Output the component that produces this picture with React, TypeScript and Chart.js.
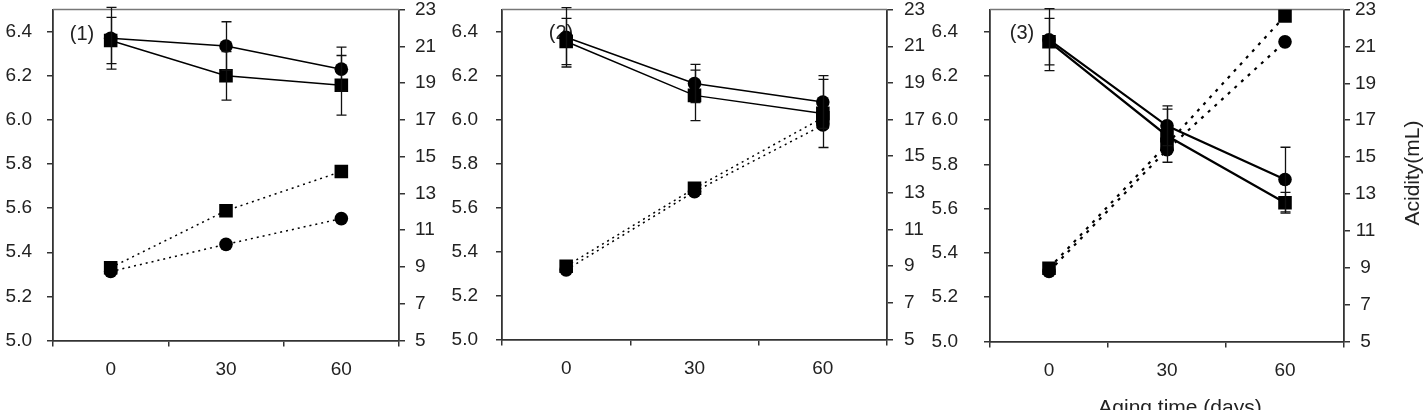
import React, { useEffect, useRef } from 'react';
import { Chart, registerables } from 'chart.js';

Chart.register(...registerables);

// ---------- data ----------
const days = ['0', '30', '60'];
const panelLabels = ['(1)', '(2)', '(3)'];
const xTitle = 'Aging time (days)';
const rightTitle = 'Acidity(mL)';

const phMin = 5.0;
const phMax = 6.5;
const phStep = 0.2;
const acidMin = 5;
const acidMax = 23;
const acidStep = 2;

// panel (1)
const p1PhCircle = [6.37, 6.335, 6.23];
const p1PhCircleErr = [0.14, 0.11, 0.1];
const p1PhSquare = [6.36, 6.2, 6.157];
const p1PhSquareErr = [0.105, 0.11, 0.135];
const p1AcidCircle = [8.75, 10.23, 11.63];
const p1AcidSquare = [8.96, 12.06, 14.19];

// panel (2)
const p2PhCircle = [6.374, 6.164, 6.08];
const p2PhCircleErr = [0.135, 0.087, 0.12];
const p2PhSquare = [6.355, 6.11, 6.028];
const p2PhSquareErr = [0.105, 0.115, 0.155];
const p2AcidCircle = [8.8, 13.07, 16.7];
const p2AcidSquare = [9.0, 13.25, 17.1];

// panel (3)
const p3PhCircle = [6.364, 5.975, 5.732];
const p3PhCircleErr = [0.14, 0.09, 0.146];
const p3PhSquare = [6.355, 5.93, 5.627];
const p3PhSquareErr = [0.105, 0.12, 0.047];
const p3AcidCircle = [8.8, 15.4, 21.25];
const p3AcidSquare = [8.97, 15.7, 22.65];

// ---------- styling ----------
const FONT = "'Liberation Sans', Arial, Helvetica, sans-serif";
const AXIS = '#333';
const TEXT = '#222';
const H = 410;

type PanelSpec = {
  left: number;
  width: number;
  plotLeft: number;
  plotRight: number;
  plotTop: number;
  plotBottom: number;
  leftPad: number;
  rightPad: number;
  rightAlign: 'near' | 'center' | 'far';
  solidWidth: number;
  dash: number[];
  dashWidth: number;
  labelX: number;
  labelY: number;
  label: string;
  phCircle: number[];
  phCircleErr: number[];
  phSquare: number[];
  phSquareErr: number[];
  acidCircle: number[];
  acidSquare: number[];
  titles: boolean;
};

const panels: PanelSpec[] = [
  {
    left: 0, width: 450, plotLeft: 53, plotRight: 399, plotTop: 5.5, plotBottom: 340.5,
    leftPad: 15, rightPad: 10, rightAlign: 'near', solidWidth: 1.5, dash: [2, 4], dashWidth: 1.5,
    labelX: 82, labelY: 34, label: panelLabels[0],
    phCircle: p1PhCircle, phCircleErr: p1PhCircleErr, phSquare: p1PhSquare, phSquareErr: p1PhSquareErr,
    acidCircle: p1AcidCircle, acidSquare: p1AcidSquare, titles: false,
  },
  {
    left: 450, width: 478, plotLeft: 502, plotRight: 887, plotTop: 6.5, plotBottom: 339.5,
    leftPad: 18, rightPad: 11, rightAlign: 'near', solidWidth: 1.5, dash: [2, 4], dashWidth: 1.5,
    labelX: 561, labelY: 33, label: panelLabels[1],
    phCircle: p2PhCircle, phCircleErr: p2PhCircleErr, phSquare: p2PhSquare, phSquareErr: p2PhSquareErr,
    acidCircle: p2AcidCircle, acidSquare: p2AcidSquare, titles: false,
  },
  {
    left: 928, width: 497, plotLeft: 990, plotRight: 1344, plotTop: 7, plotBottom: 341.5,
    leftPad: 26, rightPad: 5, rightAlign: 'center', solidWidth: 2.2, dash: [3, 6], dashWidth: 2.2,
    labelX: 1022, labelY: 33, label: panelLabels[2],
    phCircle: p3PhCircle, phCircleErr: p3PhCircleErr, phSquare: p3PhSquare, phSquareErr: p3PhSquareErr,
    acidCircle: p3AcidCircle, acidSquare: p3AcidSquare, titles: true,
  },
];

const errorBarPlugin = {
  id: 'errorBars',
  afterDatasetsDraw(chart: any) {
    const ctx = chart.ctx;
    chart.data.datasets.forEach((ds: any, i: number) => {
      const errs: number[] | undefined = ds.errors;
      if (!errs) return;
      const meta = chart.getDatasetMeta(i);
      const yScale = chart.scales[ds.yAxisID || 'y'];
      meta.data.forEach((pt: any, j: number) => {
        const v = ds.data[j];
        const e = errs[j];
        const x = Math.round(pt.x) + 0.5;
        const yTop = yScale.getPixelForValue(v + e);
        const yBot = yScale.getPixelForValue(v - e);
        ctx.save();
        ctx.strokeStyle = '#111';
        ctx.lineWidth = 1.3;
        ctx.beginPath();
        ctx.moveTo(x, yTop);
        ctx.lineTo(x, yBot);
        ctx.moveTo(x - 5, yTop);
        ctx.lineTo(x + 5, yTop);
        ctx.moveTo(x - 5, yBot);
        ctx.lineTo(x + 5, yBot);
        ctx.stroke();
        ctx.restore();
      });
    });
  },
};

function makeTextPlugin(spec: PanelSpec) {
  return {
    id: 'panelText',
    beforeDatasetsDraw(chart: any) {
      const ctx = chart.ctx;
      const a = chart.chartArea;
      ctx.save();
      // top frame line
      ctx.strokeStyle = '#777';
      ctx.lineWidth = 1.5;
      ctx.beginPath();
      ctx.moveTo(a.left, a.top);
      ctx.lineTo(a.right, a.top);
      ctx.stroke();
      // panel label
      ctx.fillStyle = TEXT;
      ctx.font = `20px ${FONT}`;
      ctx.textAlign = 'center';
      ctx.textBaseline = 'middle';
      ctx.fillText(spec.label, spec.labelX - spec.left, spec.labelY);
      if (spec.titles) {
        ctx.font = `21px ${FONT}`;
        ctx.textBaseline = 'alphabetic';
        ctx.fillText(xTitle, 1180 - spec.left, 413.5);
        ctx.translate(1413 - spec.left, 173);
        ctx.rotate(-Math.PI / 2);
        ctx.textBaseline = 'middle';
        ctx.fillText(rightTitle, 0, 0);
      }
      ctx.restore();
    },
  };
}

function Panel({ spec }: { spec: PanelSpec }) {
  const ref = useRef<HTMLCanvasElement | null>(null);
  useEffect(() => {
    if (!ref.current) return;
    const tickFont = { family: FONT, size: 19 };
    const gridCommon = { drawOnChartArea: false, tickLength: 6, color: AXIS, lineWidth: 1.5 };
    const borderCommon = { display: true, color: AXIS, width: 1.8 };
    const base = {
      borderColor: '#000',
      backgroundColor: '#000',
      pointBorderWidth: 0,
      pointBackgroundColor: '#000',
      tension: 0,
      fill: false,
    };
    const chart = new Chart(ref.current, {
      type: 'line',
      data: {
        labels: days,
        datasets: [
          { ...base, label: 'pH circle', data: spec.phCircle, errors: spec.phCircleErr, yAxisID: 'y',
            borderWidth: spec.solidWidth, pointStyle: 'circle', pointRadius: 6.8 } as any,
          { ...base, label: 'pH square', data: spec.phSquare, errors: spec.phSquareErr, yAxisID: 'y',
            borderWidth: spec.solidWidth, pointStyle: 'rect', pointRadius: 9.6 } as any,
          { ...base, label: 'Acidity circle', data: spec.acidCircle, yAxisID: 'y1',
            borderWidth: spec.dashWidth, borderDash: spec.dash, pointStyle: 'circle', pointRadius: 6.8 } as any,
          { ...base, label: 'Acidity square', data: spec.acidSquare, yAxisID: 'y1',
            borderWidth: spec.dashWidth, borderDash: spec.dash, pointStyle: 'rect', pointRadius: 9.6 } as any,
        ],
      },
      options: {
        responsive: false,
        animation: false,
        devicePixelRatio: 1,
        layout: { padding: { top: spec.plotTop, left: 0, right: 0, bottom: 0 } },
        plugins: { legend: { display: false }, tooltip: { enabled: false } },
        scales: {
          x: {
            type: 'category',
            offset: true,
            grid: { ...gridCommon, offset: true },
            border: borderCommon,
            ticks: { font: tickFont, color: TEXT, padding: 12, maxRotation: 0, autoSkip: false },
            afterFit: (s: any) => {
              s.height = H - spec.plotBottom;
              s.paddingLeft = 0;
              s.paddingRight = 0;
            },
          },
          y: {
            position: 'left',
            min: phMin,
            max: phMax,
            grid: gridCommon,
            border: borderCommon,
            ticks: {
              stepSize: phStep,
              includeBounds: false,
              font: tickFont,
              color: TEXT,
              padding: spec.leftPad,
              callback: (v: any) => Number(v).toFixed(1),
            },
            afterFit: (s: any) => {
              s.width = spec.plotLeft - spec.left;
              s.paddingTop = 0;
              s.paddingBottom = 0;
            },
          },
          y1: {
            position: 'right',
            min: acidMin,
            max: acidMax,
            grid: gridCommon,
            border: borderCommon,
            ticks: {
              stepSize: acidStep,
              font: tickFont,
              color: TEXT,
              padding: spec.rightPad,
              crossAlign: spec.rightAlign,
            },
            afterFit: (s: any) => {
              s.width = spec.left + spec.width - spec.plotRight;
              s.paddingTop = 0;
              s.paddingBottom = 0;
            },
          },
        },
      } as any,
      plugins: [makeTextPlugin(spec), errorBarPlugin],
    });
    return () => chart.destroy();
  }, [spec]);
  return (
    <canvas
      ref={ref}
      width={spec.width}
      height={H}
      style={{ position: 'absolute', left: spec.left, top: 0, width: spec.width, height: H }}
    />
  );
}

export default function App() {
  return (
    <div style={{ position: 'absolute', left: 0, top: 0, width: 1425, height: H, background: '#fff', overflow: 'hidden' }}>
      {panels.map((p, i) => (
        <Panel key={i} spec={p} />
      ))}
    </div>
  );
}
